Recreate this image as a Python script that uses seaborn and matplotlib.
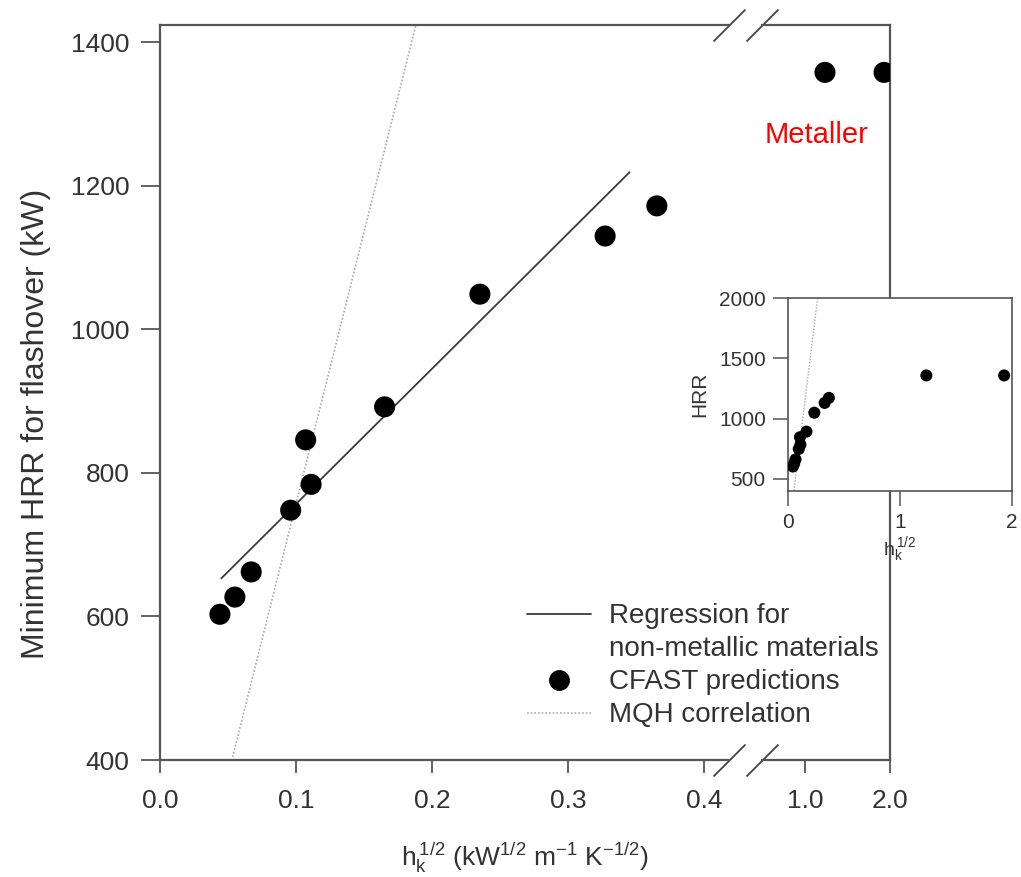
import matplotlib
matplotlib.use("Agg")
import matplotlib.pyplot as plt
import seaborn as sns
from matplotlib.lines import Line2D

# CFAST predictions, non-metallic linings
hk_sqrt = [0.044, 0.055, 0.067, 0.096, 0.107, 0.111, 0.165, 0.235, 0.327, 0.365]
hrr_min = [603, 627, 662, 748, 846, 784, 892, 1049, 1130, 1172]

# CFAST predictions, metallic linings (right side of the broken axis)
hk_sqrt_metal = [1.235, 1.93]
hrr_metal = [1358, 1358]

# regression line for the non-metallic materials (end points)
reg_x = [0.045, 0.345]
reg_y = [653, 1219]

# MQH correlation (straight line through the origin, end points)
mqh_x = [0.0, 0.264]
mqh_y = [0, 2000]

main_xticks = [0.0, 0.1, 0.2, 0.3, 0.4]
metal_xticks = [1.0, 2.0]
main_yticks = [400, 600, 800, 1000, 1200, 1400]
inset_yticks = [500, 1000, 1500, 2000]
inset_xticks = [0, 1, 2]

sns.set_style("ticks")
plt.rcParams["font.family"] = ["Liberation Sans", "DejaVu Sans"]
plt.rcParams["mathtext.default"] = "regular"

spine_c = "#555555"
txt_c = "#333333"
W, H = 1021, 877

fig = plt.figure(figsize=(W / 100, H / 100), dpi=100)
ax = fig.add_axes([160 / W, 1 - 760 / H, (729 - 160) / W, (760 - 25) / H])
ax_m = fig.add_axes([762 / W, 1 - 760 / H, (890 - 762) / W, (760 - 25) / H], sharey=ax)
ax_m.patch.set_alpha(0)

for a in (ax, ax_m):
    sns.lineplot(x=reg_x, y=reg_y, ax=a, color="#3a3a3a", lw=1.3)
    sns.scatterplot(x=hk_sqrt + hk_sqrt_metal, y=hrr_min + hrr_metal, ax=a,
                    color="black", s=230, edgecolor="none", zorder=3)
    sns.lineplot(x=mqh_x, y=mqh_y, ax=a, color="#aaaaaa", lw=1.2,
                 linestyle=(0, (1, 1.2)))
    for s in a.spines.values():
        s.set_color(spine_c)
        s.set_linewidth(1.6)
    a.tick_params(colors=spine_c, labelcolor=txt_c, width=1.3, labelsize=19,
                  length=9, pad=12)

ax.set_xlim(0, 0.418)
ax.set_ylim(400, 1424)
ax.set_xticks(main_xticks)
ax.set_xticklabels([f"{v:.1f}" for v in main_xticks])
ax.set_yticks(main_yticks)
ax.tick_params(axis="y", length=14, pad=8)
ax.spines["right"].set_visible(False)

ax_m.set_xlim(0.494, 2.0)
ax_m.set_xticks(metal_xticks)
ax_m.set_xticklabels([f"{v:.1f}" for v in metal_xticks])
ax_m.spines["left"].set_visible(False)
ax_m.tick_params(axis="y", left=False, labelleft=False)

# break marks on the x axis
brk = dict(marker=[(-1, -1), (1, 1)], markersize=23, linestyle="none",
           color="#444444", mec="#444444", mew=1.3, clip_on=False)
ax.plot([1, 1], [0, 1], transform=ax.transAxes, **brk)
ax_m.plot([0, 0], [0, 1], transform=ax_m.transAxes, **brk)

ax.set_xlabel("")
ax.set_ylabel("")
ax_m.set_xlabel("")
fig.text(525 / W, 1 - 858 / H,
         r"$h_k^{\,1/2}$ (kW$^{1/2}$ m$^{-1}$ K$^{-1/2}$)",
         ha="center", va="center", fontsize=19, color=txt_c)
fig.text(36 / W, 1 - 424 / H, "Minimum HRR for flashover (kW)",
         rotation=90, ha="center", va="center", fontsize=23, color=txt_c)

fig.text(817 / W, 1 - 135 / H, "Metaller", color="red", fontsize=21,
         ha="center", va="center")

# legend: the regression label is split so its line sits on the first row
handles = [
    Line2D([], [], color="#3a3a3a", lw=1.3),
    Line2D([], [], color="none"),
    Line2D([], [], marker="o", color="black", linestyle="none", markersize=14),
    Line2D([], [], color="#aaaaaa", lw=1.2, linestyle=(0, (1, 1.2))),
]
labels = ["Regression for", "non-metallic materials", "CFAST predictions", "MQH correlation"]
fig.legend(handles, labels, loc="upper left", bbox_to_anchor=(508 / W, 1 - 584 / H),
           frameon=False, fontsize=20, handlelength=2.3, handletextpad=0.65,
           labelspacing=0.25, borderpad=0.2, labelcolor=txt_c)

# inset with the full x range
axi = fig.add_axes([788 / W, 1 - 491 / H, (1012 - 788) / W, (491 - 298) / H])
sns.scatterplot(x=hk_sqrt + hk_sqrt_metal, y=hrr_min + hrr_metal, ax=axi,
                color="black", s=75, edgecolor="none", zorder=3)
sns.lineplot(x=mqh_x, y=mqh_y, ax=axi, color="#aaaaaa", lw=1.0,
             linestyle=(0, (1, 1.2)))
axi.set_xlim(0, 2)
axi.set_ylim(400, 2000)
axi.set_xticks(inset_xticks)
axi.set_yticks(inset_yticks)
for s in axi.spines.values():
    s.set_color(spine_c)
    s.set_linewidth(1.2)
axi.tick_params(colors=spine_c, labelcolor=txt_c, width=1.1, labelsize=15,
                length=11, pad=5)
axi.set_ylabel("HRR", fontsize=15, color=txt_c, labelpad=7)
axi.set_xlabel(r"$h_k^{\,1/2}$", fontsize=14, color=txt_c, labelpad=2)

fig.savefig("out.png", dpi=100)
